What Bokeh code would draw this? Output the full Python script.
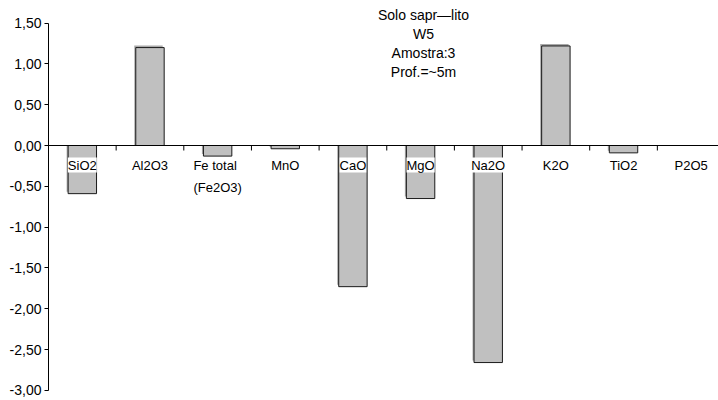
from bokeh.plotting import figure
from bokeh.models import (ColumnDataSource, Range1d, FixedTicker, CustomJSTickFormatter,
                          Span, LabelSet)
from bokeh.core.properties import value
from bokeh.embed import file_html
from bokeh.resources import INLINE

# ---- data ----
categories = ["SiO2", "Al2O3", "Fe total\n(Fe2O3)", "MnO", "CaO", "MgO", "Na2O", "K2O", "TiO2", "P2O5"]
values = [-0.59, 1.20, -0.13, -0.04, -1.73, -0.65, -2.66, 1.22, -0.09, 0.0]
y_ticks = [-3.0, -2.5, -2.0, -1.5, -1.0, -0.5, 0.0, 0.5, 1.0, 1.5]
title_lines = ["Solo sapr\u2014lito", "W5", "Amostra:3", "Prof.=~5m"]

FONT = "Liberation Sans"
W, H = 718, 400
LEFT = 48
px_per_unit_y = 81.6
px_per_cat = 67.65
zero_px = 145

y_top = zero_px / px_per_unit_y
y_bot = y_top - H / px_per_unit_y
x_end = (W - LEFT) / px_per_cat

p = figure(width=W, height=H, output_backend="svg", toolbar_location=None,
           x_range=Range1d(0, x_end), y_range=Range1d(y_bot, y_top),
           min_border_left=LEFT, min_border_right=0, min_border_top=0, min_border_bottom=0)
p.outline_line_color = None
p.background_fill_color = "white"
p.border_fill_color = "white"
p.xgrid.visible = False
p.ygrid.visible = False
p.xaxis.visible = False

yax = p.yaxis[0]
yax.ticker = FixedTicker(ticks=y_ticks)
yax.bounds = (min(y_ticks), max(y_ticks))
yax.formatter = CustomJSTickFormatter(code="return tick.toFixed(2).replace('.', ',');")
yax.major_tick_in = 0
yax.major_tick_out = 4
yax.minor_tick_line_color = None
yax.axis_line_color = "black"
yax.major_tick_line_color = "black"
yax.major_label_text_font = FONT
yax.major_label_text_font_size = "14px"
yax.major_label_text_color = "black"
yax.major_label_standoff = 3

n = len(categories)
xc = [i + 0.5 for i in range(n)]
dx = 1.5 / px_per_cat
dy = 2.0 / px_per_unit_y
src = ColumnDataSource(dict(
    x=xc, top=values, cat=categories,
    sx=[x - dx for x in xc],
    stop=[v + dy if v > 0 else 0 for v in values],
    sbot=[0 if v > 0 else min(v + dy, 0) for v in values],
))

# bar shadows (offset up-left)
p.vbar(x="sx", top="stop", bottom="sbot", width=0.42, source=src,
       fill_color="#A9A9A9", line_color=None)
# bars
p.vbar(x="x", top="top", bottom=0, width=0.42, source=src,
       fill_color="#C0C0C0", line_color="#1a1a1a", line_width=1)

# zero line (category axis)
p.add_layout(Span(location=0, dimension="width", line_color="black", line_width=1))

# category boundary tick marks
tick_len = 5 / px_per_unit_y
bx = list(range(1, n))
p.segment(x0=bx, y0=[0] * len(bx), x1=bx, y1=[-tick_len] * len(bx),
          line_color="black", line_width=1)

# category labels
labels = LabelSet(x="x", y=0, text="cat", source=src, y_units="data",
                  y_offset=-12, text_align="center", text_baseline="top",
                  text_font=value(FONT), text_font_size=value("13px"),
                  text_color="black", text_line_height=1.5,
                  background_fill_color="white")
p.add_layout(labels)

# title block
tsrc = ColumnDataSource(dict(x=[375] * len(title_lines),
                             y=[H - 14 - 19.2 * i for i in range(len(title_lines))],
                             t=title_lines))
p.add_layout(LabelSet(x="x", y="y", text="t", source=tsrc, x_units="screen", y_units="screen",
                      text_align="center", text_baseline="middle",
                      text_font=value(FONT), text_font_size=value("14px"),
                      text_color="black"))

open("out.html", "w").write(file_html(p, INLINE))
